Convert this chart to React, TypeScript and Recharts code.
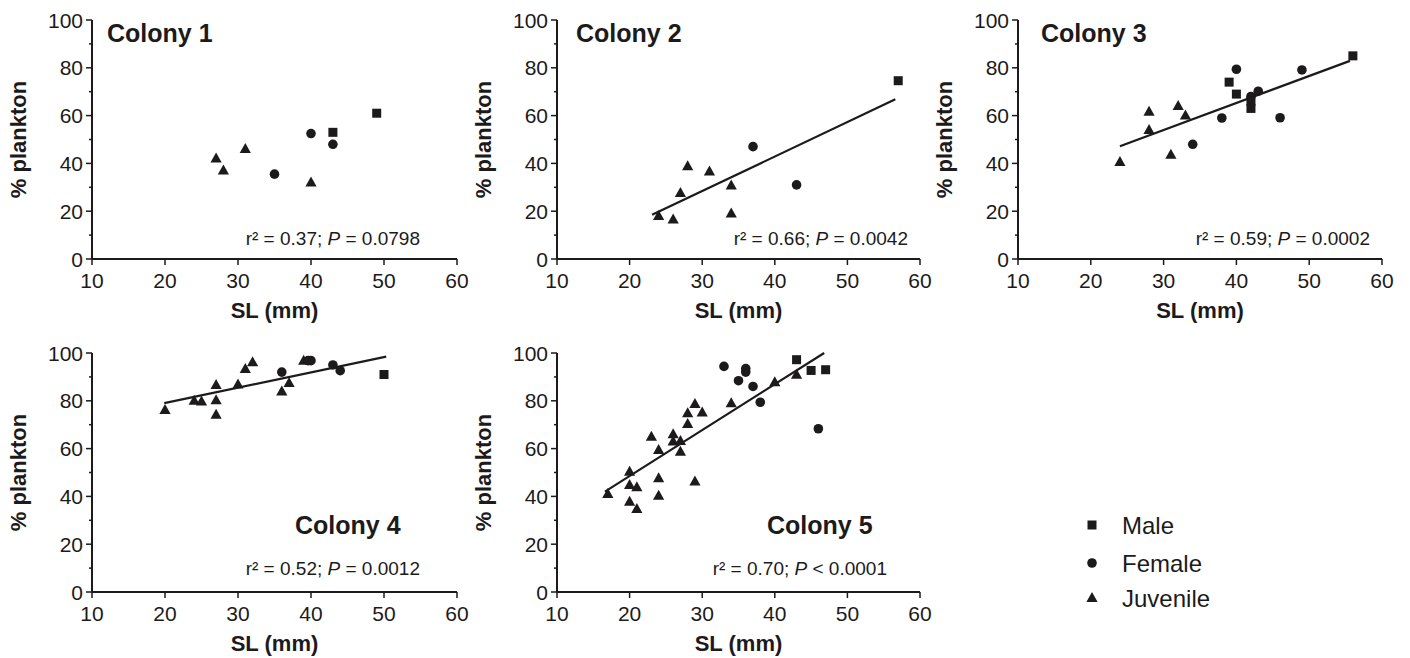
import { ScatterChart, Scatter, XAxis, YAxis, ReferenceLine, Label } from 'recharts'

type Pt = [number, number]

const xTicks = [10, 20, 30, 40, 50, 60]
const yTicks = [0, 10, 20, 30, 40, 50, 60, 70, 80, 90, 100]

// [SL mm, % plankton]
const c1Male: Pt[] = [[43, 53], [49, 61]]
const c1Female: Pt[] = [[35, 35.5], [40, 52.5], [43, 48]]
const c1Juvenile: Pt[] = [[27, 42], [28, 37], [31, 46], [40, 32]]

const c2Male: Pt[] = [[57, 74.6]]
const c2Female: Pt[] = [[37, 47], [43, 31]]
const c2Juvenile: Pt[] = [[24, 18], [26, 16.5], [27, 27.6], [28, 38.8], [31, 36.6], [34, 30.8], [34, 19]]
const c2Fit: Pt[] = [[23.1, 18.5], [56.6, 66.8]]

const c3Male: Pt[] = [[39, 74], [40, 69], [42, 66], [42, 63], [56, 85]]
const c3Female: Pt[] = [[34, 48], [38, 59], [40, 79.4], [42, 68], [43, 70.2], [46, 59.1], [49, 79.1]]
const c3Juvenile: Pt[] = [[24, 40.6], [28, 61.6], [28, 54], [31, 43.6], [32, 64], [33, 60]]
const c3Fit: Pt[] = [[24, 47.2], [55.6, 82.9]]

const c4Male: Pt[] = [[50, 91]]
const c4Female: Pt[] = [[36, 92], [39.6, 96.8], [40, 96.8], [43, 95], [44, 92.6]]
const c4Juvenile: Pt[] = [
  [20, 76.2], [24, 80], [25, 79.7], [27, 86.6], [27, 80.2], [27, 74.2],
  [30, 86.8], [31, 93.3], [32, 96.1], [36, 83.9], [37, 87.4], [39, 96.8],
]
const c4Fit: Pt[] = [[19.9, 79], [50.3, 98.5]]

const c5Male: Pt[] = [[43, 97.2], [45, 92.7], [47, 93]]
const c5Female: Pt[] = [[33, 94.4], [35, 88.4], [36, 93.5], [36, 92], [37, 86], [38, 79.4], [46, 68.3]]
const c5Juvenile: Pt[] = [
  [17, 41], [20, 50.3], [20, 44.8], [20, 37.8], [21, 43.8], [21, 34.7], [23, 65],
  [24, 59.4], [24, 47.6], [24, 40.3], [26, 66], [26, 63], [27, 63.2], [27, 58.7],
  [28, 70.3], [28, 74.8], [29, 78.7], [29, 46.2], [30, 75.1], [34, 79], [40, 87.8], [43, 90.9],
]
const c5Fit: Pt[] = [[16.6, 42], [46.8, 100]]

const INK = '#1c1a1b'
const FONT = '"Liberation Sans", Arial, Helvetica, sans-serif'

const toRows = (pts: Pt[]) => pts.map(([x, y]) => ({ x, y }))

const SquareMark = ({ cx, cy }) => <rect x={cx - 4.5} y={cy - 4.5} width={9} height={9} fill={INK} />
const CircleMark = ({ cx, cy }) => <circle cx={cx} cy={cy} r={4.8} fill={INK} />
const TriangleMark = ({ cx, cy }) => (
  <polygon points={`${cx},${cy - 6} ${cx + 5.6},${cy + 4} ${cx - 5.6},${cy + 4}`} fill={INK} />
)

// y ticks every 10, labels only every 20 (minor ticks shorter)
const YTick = ({ x, y, payload }) => {
  const v = payload.value
  const major = v % 20 === 0
  const ax = x + 9
  return (
    <g>
      <line x1={ax - (major ? 6 : 3)} x2={ax} y1={y} y2={y} stroke={INK} strokeWidth={1.5} />
      {major && (
        <text x={x} y={y} dy="0.36em" textAnchor="end" fontSize={21} fontFamily={FONT} fill={INK}>
          {v}
        </text>
      )}
    </g>
  )
}

const Panel = ({ left, top, plotW, male, female, juvenile, fit, title, titleX, titleY, stat, pText, statX, statY }) => {
  const width = 92 + plotW + 13
  const height = 323
  return (
    <div style={{ position: 'absolute', left, top, width, height }}>
      <ScatterChart width={width} height={height} margin={{ top: 20, right: 13, bottom: 0, left: 0 }}>
        <XAxis
          type="number"
          dataKey="x"
          domain={[10, 60]}
          ticks={xTicks}
          interval={0}
          height={64}
          axisLine={{ stroke: INK, strokeWidth: 2 }}
          tickLine={{ stroke: INK, strokeWidth: 1.5 }}
          tickSize={6}
          tickMargin={8}
          tick={{ fill: INK, fontSize: 21, fontFamily: FONT }}
        >
          <Label
            value="SL (mm)"
            position="insideBottom"
            offset={5}
            fill={INK}
            style={{ fontWeight: 700, fontSize: 22, fontFamily: FONT, fill: INK }}
          />
        </XAxis>
        <YAxis
          type="number"
          dataKey="y"
          domain={[0, 100]}
          ticks={yTicks}
          interval={0}
          width={92}
          axisLine={{ stroke: INK, strokeWidth: 2 }}
          tickLine={false}
          tickSize={6}
          tickMargin={3}
          tick={<YTick />}
        >
          <Label
            value="% plankton"
            angle={-90}
            position="insideLeft"
            offset={18}
            style={{ textAnchor: 'middle', fontWeight: 700, fontSize: 22, fontFamily: FONT, fill: INK }}
          />
        </YAxis>
        {fit && (
          <ReferenceLine
            segment={fit.map(([x, y]) => ({ x, y }))}
            stroke={INK}
            strokeWidth={2.2}
          />
        )}
        <Scatter data={toRows(juvenile)} shape={TriangleMark} isAnimationActive={false} />
        <Scatter data={toRows(female)} shape={CircleMark} isAnimationActive={false} />
        <Scatter data={toRows(male)} shape={SquareMark} isAnimationActive={false} />
      </ScatterChart>
      <svg
        width={width}
        height={height}
        style={{ position: 'absolute', left: 0, top: 0, pointerEvents: 'none' }}
      >
        <text x={titleX} y={titleY} fontSize={25} fontWeight={700} fontFamily={FONT} fill={INK}>
          {title}
        </text>
        <text x={statX} y={statY} textAnchor="end" fontSize={19} fontFamily={FONT} fill={INK}>
          {stat}
          <tspan fontStyle="italic">P</tspan>
          {pText}
        </text>
      </svg>
    </div>
  )
}

const Legend = () => (
  <svg width={170} height={110} style={{ position: 'absolute', left: 1080, top: 505 }}>
    <SquareMark cx={12} cy={20} />
    <CircleMark cx={12} cy={58} />
    <TriangleMark cx={12} cy={93} />
    {['Male', 'Female', 'Juvenile'].map((t, i) => (
      <text key={t} x={42} y={[20, 58, 93][i]} dy="0.36em" fontSize={24} fontFamily={FONT} fill={INK}>
        {t}
      </text>
    ))}
  </svg>
)

export default function App() {
  return (
    <div
      style={{
        position: 'absolute',
        left: 0,
        top: 0,
        width: 1410,
        height: 658,
        overflow: 'hidden',
        background: '#fff',
      }}
    >
      <Panel
        left={0} top={0} plotW={365}
        male={c1Male} female={c1Female} juvenile={c1Juvenile} fit={null}
        title="Colony 1" titleX={107} titleY={42}
        stat="r² = 0.37; " pText=" = 0.0798" statX={420} statY={245}
      />
      <Panel
        left={465} top={0} plotW={363}
        male={c2Male} female={c2Female} juvenile={c2Juvenile} fit={c2Fit}
        title="Colony 2" titleX={111} titleY={42}
        stat="r² = 0.66; " pText=" = 0.0042" statX={443} statY={245}
      />
      <Panel
        left={926} top={0} plotW={364}
        male={c3Male} female={c3Female} juvenile={c3Juvenile} fit={c3Fit}
        title="Colony 3" titleX={115} titleY={42}
        stat="r² = 0.59; " pText=" = 0.0002" statX={444} statY={245}
      />
      <Panel
        left={0} top={333} plotW={365}
        male={c4Male} female={c4Female} juvenile={c4Juvenile} fit={c4Fit}
        title="Colony 4" titleX={295} titleY={201}
        stat="r² = 0.52; " pText=" = 0.0012" statX={420} statY={242}
      />
      <Panel
        left={465} top={333} plotW={363}
        male={c5Male} female={c5Female} juvenile={c5Juvenile} fit={c5Fit}
        title="Colony 5" titleX={302} titleY={201}
        stat="r² = 0.70; " pText=" < 0.0001" statX={422} statY={242}
      />
      <Legend />
    </div>
  )
}
